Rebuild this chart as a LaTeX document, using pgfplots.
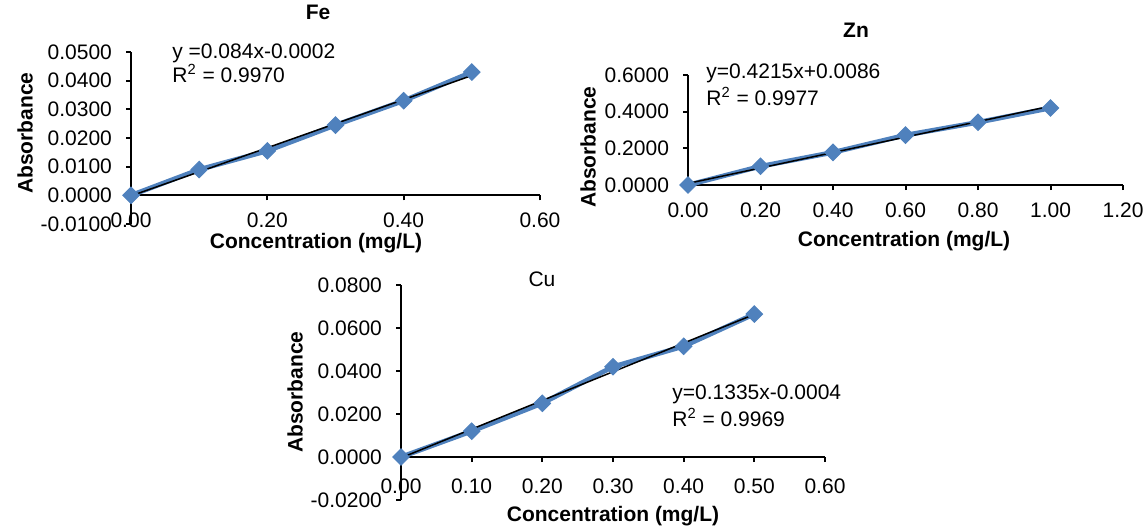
\documentclass[border=0pt]{standalone}
\usepackage{fontspec}
\setmainfont{Liberation Sans}
\usepackage{pgfplots}
\pgfplotsset{compat=1.18}
\definecolor{exblue}{RGB}{79,129,189}

\pgfplotsset{
  calib/.style={
    scale only axis,
    anchor=south west,
    axis y line=left,
    axis x line=middle,
    axis line style={-, line width=1pt},
    tick align=outside,
    major tick length=2.5pt,
    tick style={line width=1pt, black},
    hide obscured x ticks=false,
    hide obscured y ticks=false,
    scaled ticks=false,
    clip=false,
    font=\fontsize{10.5}{12}\selectfont,
    /pgf/number format/assume math mode=true,
    yticklabel style={/pgf/number format/fixed, /pgf/number format/fixed zerofill, /pgf/number format/precision=4, xshift=-3.5pt},
    xticklabel style={/pgf/number format/fixed, /pgf/number format/fixed zerofill, /pgf/number format/precision=2, inner sep=1pt},
  },
  data/.style={color=exblue, line width=2.4pt, mark=square*, mark size=2.9pt,
    mark options={rotate=45, fill=exblue, draw=exblue, line width=0.5pt}},
  fit/.style={black, line width=0.75pt, mark=none},
}

\begin{document}
\begin{tikzpicture}[x=1pt, y=1pt]
\path[use as bounding box] (0,0) rectangle (572.5,263.5);

% Fe
\begin{axis}[calib, at={(65.5pt,151.5pt)}, width=204.5pt, height=86pt,
  xmin=0, xmax=0.6, ymin=-0.01, ymax=0.05,
  xtick={0,0.2,0.4,0.6}, ytick={-0.01,0,0.01,0.02,0.03,0.04,0.05},
  xticklabel style={anchor=center, yshift=-10pt}]
\addplot[data] coordinates {(0,0) (0.1,0.0090) (0.2,0.0155) (0.3,0.0245) (0.4,0.0330) (0.5,0.0430)};
\addplot[fit] coordinates {(0,-0.0002) (0.5,0.0418)};
\end{axis}

% Zn
\begin{axis}[calib, at={(344pt,171pt)}, width=217.5pt, height=55pt,
  xmin=0, xmax=1.2, ymin=0, ymax=0.6,
  xtick={0,0.2,0.4,0.6,0.8,1.0,1.2}, ytick={0,0.2,0.4,0.6},
  xticklabel style={anchor=center, yshift=-10pt}]
\addplot[data] coordinates {(0,0) (0.2,0.102) (0.4,0.178) (0.6,0.272) (0.8,0.342) (1.0,0.420)};
\addplot[fit] coordinates {(0,0.0086) (1.0,0.4301)};
\end{axis}

% Cu
\begin{axis}[calib, at={(200.5pt,13.5pt)}, width=212pt, height=107.5pt,
  xmin=0, xmax=0.6, ymin=-0.02, ymax=0.08,
  xtick={0,0.1,0.2,0.3,0.4,0.5,0.6}, ytick={-0.02,0,0.02,0.04,0.06,0.08},
  xticklabel style={anchor=center, yshift=-12pt}]
\addplot[data] coordinates {(0,0) (0.1,0.0120) (0.2,0.0250) (0.3,0.0420) (0.4,0.0515) (0.5,0.0665)};
\addplot[fit] coordinates {(0,-0.0004) (0.5,0.06635)};
\end{axis}

\begin{scope}[font=\fontsize{10.5}{12}\selectfont]
% titles
\node[font=\fontsize{10.5}{12}\selectfont\bfseries] at (159,257.5) {Fe};
\node[font=\fontsize{10.5}{12}\selectfont\bfseries] at (428,248.5) {Zn};
\node at (271,124) {Cu};
% axis labels
\node[font=\fontsize{10.5}{12}\selectfont\bfseries, rotate=90] at (12.5,197) {Absorbance};
\node[font=\fontsize{10.5}{12}\selectfont\bfseries, inner sep=1pt] at (158,142) {Concentration (mg/L)};
\node[font=\fontsize{10.5}{12}\selectfont\bfseries, rotate=90] at (294,190) {Absorbance};
\node[font=\fontsize{10.5}{12}\selectfont\bfseries, inner sep=1pt] at (452,143) {Concentration (mg/L)};
\node[font=\fontsize{10.5}{12}\selectfont\bfseries, rotate=90] at (147.5,67.5) {Absorbance};
\node[font=\fontsize{10.5}{12}\selectfont\bfseries, inner sep=1pt] at (306.5,5.5) {Concentration (mg/L)};
% equations
\node[anchor=west, inner sep=0pt] at (86,237) {y =0.084x-0.0002};
\node[anchor=west, inner sep=0pt] at (86,227) {R\textsuperscript{2} = 0.9970};
\node[anchor=west, inner sep=0pt] at (353,227) {y=0.4215x+0.0086};
\node[anchor=west, inner sep=0pt] at (353,215.5) {R\textsuperscript{2} = 0.9977};
\node[anchor=west, inner sep=0pt] at (336,66.5) {y=0.1335x-0.0004};
\node[anchor=west, inner sep=0pt] at (336,55) {R\textsuperscript{2} = 0.9969};
\end{scope}
\end{tikzpicture}
\end{document}
